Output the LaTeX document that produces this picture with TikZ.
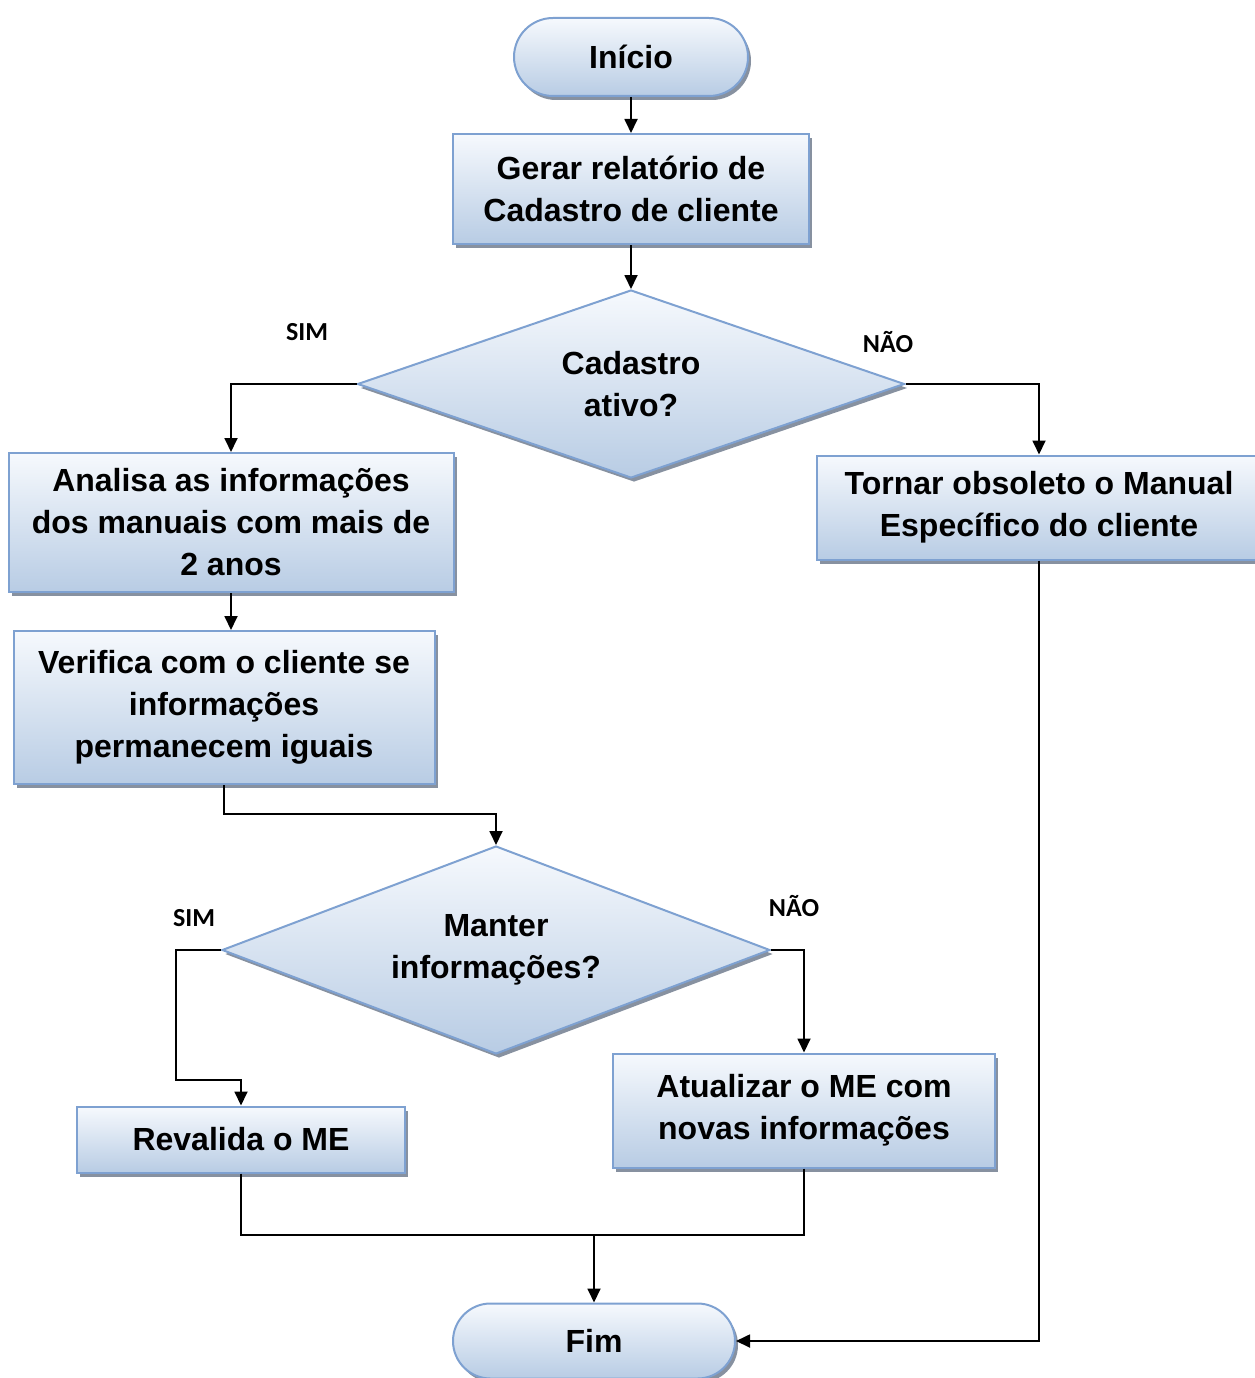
\documentclass[tikz,border=0pt]{standalone}
\usepackage{fontspec}
\setmainfont{Liberation Sans}
\newfontfamily\labelfont{Carlito}
\usetikzlibrary{shapes.geometric,shapes.misc,shadows,arrows.meta}
\definecolor{edgeblue}{RGB}{126,161,209}
\definecolor{fillTop}{RGB}{246,249,253}
\definecolor{fillBot}{RGB}{184,204,228}
\definecolor{shadowgray}{RGB}{135,145,160}
\begin{document}
\begin{tikzpicture}[x=1pt,y=-1pt,
  every node/.style={font=\fontsize{32}{42}\selectfont\bfseries, align=center, inner sep=0pt},
  flowbase/.style={draw=edgeblue, line width=2pt, top color=fillTop, bottom color=fillBot,
    drop shadow={shadow xshift=3pt, shadow yshift=-4pt, fill=shadowgray, opacity=1}},
  procbox/.style={flowbase, rectangle},
  term/.style={flowbase, rounded rectangle},
  decision/.style={flowbase, diamond, aspect=2.9},
  branch/.style={font=\labelfont\fontsize{26}{30}\selectfont\bfseries},
  flow/.style={line width=1.8pt, -{Triangle[width=13pt,length=14pt]}},
  link/.style={line width=1.8pt}
]
\useasboundingbox (0,0) rectangle (1254,1378);

% process steps
\node[term, minimum width=234pt, minimum height=78pt] (start) at (631,57) {Início};
\node[procbox, minimum width=356pt, minimum height=110pt] (report) at (631,189) {Gerar relatório de\\Cadastro de cliente};
\node[decision, minimum width=547pt, minimum height=188pt] (active) at (631,384) {Cadastro\\ativo?};
\node[procbox, minimum width=445pt, minimum height=139pt] (analyse) at (231,522.5) {Analisa as informações\\dos manuais com mais de\\2 anos};
\node[procbox, minimum width=444pt, minimum height=104pt] (obsolete) at (1039,507.5) {Tornar obsoleto o Manual\\Específico do cliente};
\node[procbox, minimum width=421pt, minimum height=153pt] (verify) at (224,707.5) {Verifica com o cliente se\\informações\\permanecem iguais};
\node[decision, minimum width=548pt, minimum height=208pt] (keep) at (496,950) {Manter\\informações?};
\node[procbox, minimum width=328pt, minimum height=66pt] (revalidate) at (241,1139.5) {Revalida o ME};
\node[procbox, minimum width=382pt, minimum height=114pt] (update) at (804,1110.5) {Atualizar o ME com\\novas informações};
\node[term, minimum width=282pt, minimum height=75pt] (finish) at (594,1341) {Fim};

% branch labels
\node[branch] (yes1) at (307,332) {SIM};
\node[branch] (no1) at (888,342) {NÃO};
\node[branch] (yes2) at (194,918) {SIM};
\node[branch] (no2) at (794,906) {NÃO};

% connectors
\coordinate (bend) at (176,1080);
\coordinate (merge) at (594,1235);
\draw[flow] (start.south) -- (report.north);
\draw[flow] (report.south) -- (active.north);
\draw[flow] (active.west) -| (analyse.north);
\draw[flow] (active.east) -| (obsolete.north);
\draw[flow] (analyse.south) -- (analyse.south |- verify.north);
\draw[flow] (verify.south) -- ++(0,29) -| (keep.north);
\draw[flow] (keep.west) -| (bend) -| (revalidate.north);
\draw[flow] (keep.east) -| (update.north);
\draw[link] (revalidate.south) |- (merge);
\draw[link] (update.south) |- (merge);
\draw[flow] (merge) -- (finish.north);
\draw[flow] (obsolete.south) |- (finish.east);
\end{tikzpicture}
\end{document}
